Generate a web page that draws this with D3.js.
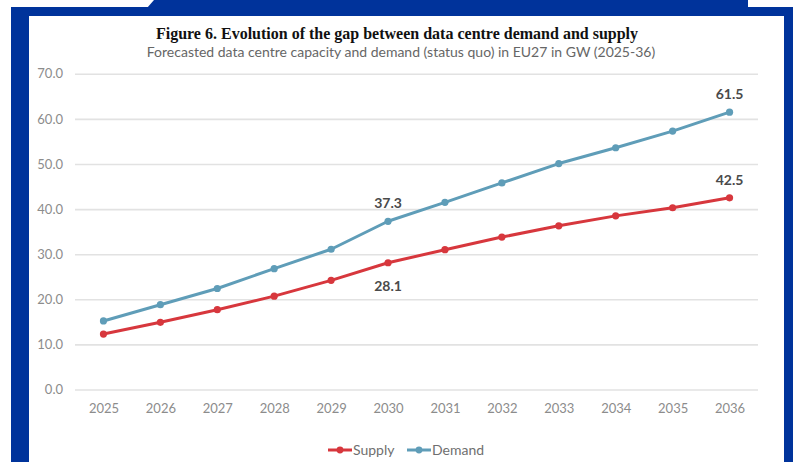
<!DOCTYPE html>
<html>
<head>
<meta charset="utf-8">
<script src="https://cdn.jsdelivr.net/npm/d3@7"></script>
<style>
  html, body { margin: 0; padding: 0; background: #ffffff; }
  svg { display: block; }
</style>
</head>
<body>
<script>
// Forecasted EU27 data centre capacity (supply) and demand, GW
const years = ["2025","2026","2027","2028","2029","2030","2031","2032","2033","2034","2035","2036"];
const supply = [12.3, 14.9, 17.7, 20.7, 24.2, 28.1, 31.0, 33.8, 36.3, 38.5, 40.3, 42.5];
const demand = [15.2, 18.8, 22.4, 26.8, 31.1, 37.3, 41.5, 45.8, 50.1, 53.6, 57.3, 61.5];
const yTicks = [0, 10, 20, 30, 40, 50, 60, 70];
const labelled = ["2030", "2036"];

const titleText = "Figure 6. Evolution of the gap between data centre demand and supply";
const subtitleText = "Forecasted data centre capacity and demand (status quo) in EU27 in GW (2025-36)";

const W = 794, H = 462;
const BLUE = "#00339b";
const RED = "#d7373d";
const TEAL = "#5f9db8";
const sansFont = "Lato, 'Noto Sans', sans-serif";

const svg = d3.select("body").append("svg")
  .attr("width", W).attr("height", H);

svg.append("rect").attr("width", W).attr("height", H).attr("fill", "#ffffff");

// Blue frame around the figure panel
const frame = svg.append("g");
frame.append("path")
  .attr("d", "M147,8 L154,0 L748,0 L748,8 Z")
  .attr("fill", BLUE);
frame.append("rect").attr("x", 11).attr("y", 7).attr("width", 782).attr("height", 9).attr("fill", BLUE);
frame.append("rect").attr("x", 11).attr("y", 7).attr("width", 18).attr("height", H).attr("fill", BLUE);
frame.append("rect").attr("x", 784).attr("y", 7).attr("width", 9).attr("height", H).attr("fill", BLUE);

// Titles
svg.append("text")
  .attr("x", 397).attr("y", 39)
  .attr("text-anchor", "middle")
  .attr("font-family", "'Liberation Serif', 'Times New Roman', serif")
  .attr("font-weight", "bold")
  .attr("font-size", 16)
  .attr("fill", "#111111")
  .text(titleText);

svg.append("text")
  .attr("x", 401).attr("y", 57)
  .attr("text-anchor", "middle")
  .attr("font-family", sansFont)
  .attr("font-size", 14)
  .attr("fill", "#666666")
  .text(subtitleText);

// Scales
const x = d3.scalePoint().domain(years).range([75, 758]).padding(0.5);
const y = d3.scaleLinear().domain([0, 70]).range([389.5, 73.8]);

// Gridlines + y axis labels
const yAxis = d3.axisLeft(y).tickValues(yTicks).tickFormat(d3.format(".1f"))
  .tickSize(-(758 - 75)).tickPadding(12);
const gy = svg.append("g").attr("transform", "translate(75,0)").call(yAxis);
gy.select(".domain").remove();
gy.selectAll(".tick line").attr("stroke", "#e2e2e2").attr("stroke-width", 1.6);
gy.selectAll(".tick text")
  .attr("font-family", sansFont).attr("font-size", 13).attr("fill", "#8c8c8c");

// x axis labels
const xAxis = d3.axisBottom(x).tickSize(0).tickPadding(14);
const gx = svg.append("g").attr("transform", "translate(0,389.5)").call(xAxis);
gx.select(".domain").remove();
gx.selectAll(".tick text")
  .attr("font-family", sansFont).attr("font-size", 13).attr("fill", "#8c8c8c");

// Series
const series = [
  { name: "Supply", values: supply, color: RED },
  { name: "Demand", values: demand, color: TEAL }
];

const line = d3.line()
  .x((d, i) => x(years[i]))
  .y(d => y(d));

series.forEach(s => {
  svg.append("path")
    .datum(s.values)
    .attr("fill", "none")
    .attr("stroke", s.color)
    .attr("stroke-width", 3)
    .attr("stroke-linejoin", "round")
    .attr("d", line);
  svg.append("g").selectAll("circle")
    .data(s.values)
    .join("circle")
    .attr("cx", (d, i) => x(years[i]))
    .attr("cy", d => y(d))
    .attr("r", 3.6)
    .attr("fill", s.color);
});

// Value labels
const labelFont = "Lato, 'Noto Sans', sans-serif";
labelled.forEach(yr => {
  const i = years.indexOf(yr);
  const isEnd = yr === "2036";
  // demand label above the point
  svg.append("text")
    .attr("x", x(yr)).attr("y", y(demand[i]) - 13)
    .attr("text-anchor", "middle")
    .attr("font-family", labelFont).attr("font-weight", "bold")
    .attr("font-size", 14).attr("fill", "#4a4a4a")
    .text(demand[i].toFixed(1));
  // supply label: above for the last year, below otherwise
  svg.append("text")
    .attr("x", x(yr)).attr("y", isEnd ? y(supply[i]) - 13 : y(supply[i]) + 28)
    .attr("text-anchor", "middle")
    .attr("font-family", labelFont).attr("font-weight", "bold")
    .attr("font-size", 14).attr("fill", "#4a4a4a")
    .text(supply[i].toFixed(1));
});

// Legend
const legendItems = [
  { name: "Supply", color: RED, x0: 328 },
  { name: "Demand", color: TEAL, x0: 407 }
];
const lg = svg.append("g");
legendItems.forEach(it => {
  lg.append("line")
    .attr("x1", it.x0).attr("x2", it.x0 + 24)
    .attr("y1", 450).attr("y2", 450)
    .attr("stroke", it.color).attr("stroke-width", 3);
  lg.append("circle")
    .attr("cx", it.x0 + 12).attr("cy", 450).attr("r", 3.4)
    .attr("fill", it.color);
  lg.append("text")
    .attr("x", it.x0 + 25).attr("y", 455)
    .attr("font-family", sansFont).attr("font-size", 14)
    .attr("fill", "#6f6f6f")
    .text(it.name);
});
</script>
</body>
</html>
